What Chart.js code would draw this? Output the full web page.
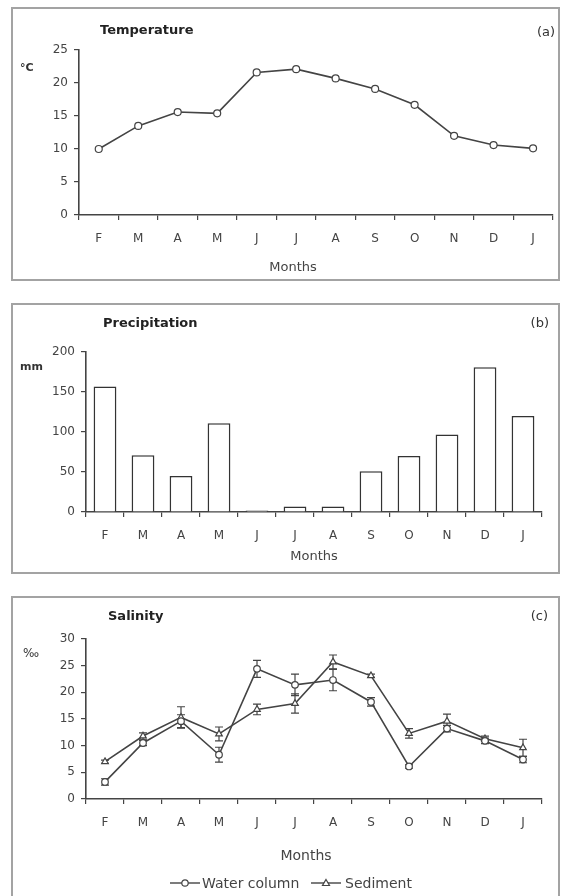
<!DOCTYPE html>
<html>
<head>
<meta charset="utf-8">
<script src="https://cdn.jsdelivr.net/npm/chart.js@4.4.0/dist/chart.umd.min.js"></script>
<style>
  html, body { margin: 0; padding: 0; background: #fff; }
  body { width: 563px; height: 896px; overflow: hidden; position: relative; font-family: "DejaVu Sans", sans-serif; color: #333; }
  .panel { position: absolute; left: 11px; width: 549px; border: 2px solid #a3a3a3; box-sizing: border-box; }
  .panel canvas { display: block; }
  .lbl { position: absolute; white-space: nowrap; line-height: 1; transform: translateY(-50%); }
  .ctr { transform: translate(-50%, -50%); }
  .rgt { transform: translate(-100%, -50%); }
  .ttl { font-weight: bold; font-size: 13px; color: #222; }
  .tag { font-size: 13px; color: #333; }
  .unit { font-weight: bold; font-size: 11px; color: #333; }
  .xt { font-size: 13px; color: #444; }
  .leg { position: absolute; top: 876px; height: 14px; }
</style>
</head>
<body>

<div class="panel" style="top:7px; height:274px;"><canvas id="tempChart" width="545" height="270"></canvas></div>
<div class="panel" style="top:303px; height:271px;"><canvas id="precChart" width="545" height="267"></canvas></div>
<div class="panel" style="top:596px; height:320px;"><canvas id="salChart" width="545" height="316"></canvas></div>

<!-- panel texts -->
<div class="lbl ttl" style="left:100px; top:29px;">Temperature</div>
<div class="lbl tag rgt" style="left:555px; top:31px;">(a)</div>
<div class="lbl unit" style="left:20px; top:67px;">°C</div>
<div class="lbl xt ctr" style="left:293px; top:266px;">Months</div>

<div class="lbl ttl" style="left:103px; top:322px;">Precipitation</div>
<div class="lbl tag rgt" style="left:549px; top:322px;">(b)</div>
<div class="lbl unit" style="left:20px; top:366px;">mm</div>
<div class="lbl xt ctr" style="left:314px; top:555px;">Months</div>

<div class="lbl ttl" style="left:108px; top:615px;">Salinity</div>
<div class="lbl tag rgt" style="left:548px; top:615px;">(c)</div>
<div class="lbl" style="left:23px; top:653px; font-size:12px;">‰</div>
<div class="lbl ctr" style="left:306px; top:855px; font-size:14px; color:#444;">Months</div>

<!-- legend of panel c -->
<svg class="leg" style="left:170px;" width="30" height="14">
  <line x1="0" y1="7" x2="30" y2="7" stroke="#444" stroke-width="1.4"/>
  <circle cx="15" cy="7" r="3.2" fill="#fff" stroke="#444" stroke-width="1.2"/>
</svg>
<div class="lbl" style="left:202px; top:883px; font-size:14px; color:#444;">Water column</div>
<svg class="leg" style="left:311px;" width="30" height="14">
  <line x1="0" y1="7" x2="30" y2="7" stroke="#444" stroke-width="1.4"/>
  <polygon points="15,3.5 18.5,9.5 11.5,9.5" fill="#fff" stroke="#444" stroke-width="1.2"/>
</svg>
<div class="lbl" style="left:345px; top:883px; font-size:14px; color:#444;">Sediment</div>

<script>
// monthly series, February to January
const months = ['F', 'M', 'A', 'M', 'J', 'J', 'A', 'S', 'O', 'N', 'D', 'J'];

const temperature = [10.0, 13.5, 15.6, 15.4, 21.6, 22.1, 20.7, 19.1, 16.7, 12.0, 10.6, 10.1];

const precipitation = [157, 71, 45, 111, 2, 7, 7, 51, 70, 97, 181, 120];

const salinityWater = [3.2, 10.5, 14.6, 8.3, 24.4, 21.4, 22.3, 18.2, 6.1, 13.2, 10.9, 7.4];
const salinityWaterErr = [0.6, 0.5, 1.2, 1.4, 1.6, 2.0, 2.0, 0.8, 0.3, 0.6, 0.5, 0.6];
const salinitySediment = [7.0, 11.8, 15.3, 12.2, 16.8, 17.9, 25.7, 23.1, 12.3, 14.6, 11.3, 9.6];
const salinitySedimentErr = [0.3, 0.6, 2.0, 1.3, 1.0, 1.8, 1.3, 0.3, 0.9, 1.3, 0.5, 1.6];

const INK = '#444';
const FONT = 'DejaVu Sans';

// vertical error bars drawn under the markers
const errorBars = {
    id: 'errorBars',
    beforeDatasetsDraw(chart) {
        const ctx = chart.ctx;
        const yScale = chart.scales.y;
        chart.data.datasets.forEach((ds, i) => {
            if (!ds.errors) return;
            const meta = chart.getDatasetMeta(i);
            ctx.save();
            ctx.strokeStyle = INK;
            ctx.lineWidth = 1.2;
            meta.data.forEach((pt, j) => {
                const top = yScale.getPixelForValue(ds.data[j] + ds.errors[j]);
                const bot = yScale.getPixelForValue(ds.data[j] - ds.errors[j]);
                ctx.beginPath();
                ctx.moveTo(pt.x, top); ctx.lineTo(pt.x, bot);
                ctx.moveTo(pt.x - 4, top); ctx.lineTo(pt.x + 4, top);
                ctx.moveTo(pt.x - 4, bot); ctx.lineTo(pt.x + 4, bot);
                ctx.stroke();
            });
            ctx.restore();
        });
    }
};

function makeScales(yMax, yStep, yWidth, xHeight) {
    return {
        x: {
            offset: true,
            grid: { display: true, drawOnChartArea: false, offset: true, tickLength: 5, color: INK, lineWidth: 1.2 },
            border: { display: true, color: INK, width: 1.6 },
            ticks: { color: INK, font: { family: FONT, size: 12 }, padding: 12, maxRotation: 0, autoSkip: false },
            afterFit: s => { s.height = xHeight; }
        },
        y: {
            min: 0,
            max: yMax,
            grid: { display: true, drawOnChartArea: false, tickLength: 5, color: INK, lineWidth: 1.2 },
            border: { display: true, color: INK, width: 1.6 },
            ticks: { stepSize: yStep, color: INK, font: { family: FONT, size: 12 }, padding: 6 },
            afterFit: s => { s.width = yWidth; }
        }
    };
}

const baseOptions = (scales, pad) => ({
    responsive: false,
    animation: false,
    layout: { padding: pad },
    plugins: { legend: { display: false }, tooltip: { enabled: false } },
    scales: scales
});

// (a) temperature
new Chart(document.getElementById('tempChart'), {
    type: 'line',
    data: {
        labels: months,
        datasets: [{
            data: temperature,
            borderColor: INK,
            borderWidth: 1.6,
            pointStyle: 'circle',
            pointRadius: 3.5,
            pointBackgroundColor: '#fff',
            pointBorderColor: INK,
            pointBorderWidth: 1.2,
            tension: 0
        }]
    },
    options: baseOptions(makeScales(25, 5, 66, 64), { left: 0, right: 3, top: 41, bottom: 0 })
});

// (b) precipitation
new Chart(document.getElementById('precChart'), {
    type: 'bar',
    data: {
        labels: months,
        datasets: [{
            data: precipitation,
            backgroundColor: '#fff',
            borderColor: '#333',
            borderWidth: 1.6,
            barPercentage: 0.6,
            categoryPercentage: 1
        }]
    },
    options: baseOptions(makeScales(200, 50, 73, 60), { left: 0, right: 16, top: 47, bottom: 0 })
});

// (c) salinity
new Chart(document.getElementById('salChart'), {
    type: 'line',
    data: {
        labels: months,
        datasets: [
            {
                label: 'Water column',
                data: salinityWater,
                errors: salinityWaterErr,
                borderColor: INK,
                borderWidth: 1.6,
                pointStyle: 'circle',
                pointRadius: 3.3,
                pointBackgroundColor: '#fff',
                pointBorderColor: INK,
                pointBorderWidth: 1.2,
                tension: 0
            },
            {
                label: 'Sediment',
                data: salinitySediment,
                errors: salinitySedimentErr,
                borderColor: INK,
                borderWidth: 1.6,
                pointStyle: 'triangle',
                pointRadius: 3.8,
                pointBackgroundColor: '#fff',
                pointBorderColor: INK,
                pointBorderWidth: 1.2,
                tension: 0
            }
        ]
    },
    options: baseOptions(makeScales(30, 5, 73, 115), { left: 0, right: 16, top: 41, bottom: 0 }),
    plugins: [errorBars]
});
</script>
</body>
</html>
